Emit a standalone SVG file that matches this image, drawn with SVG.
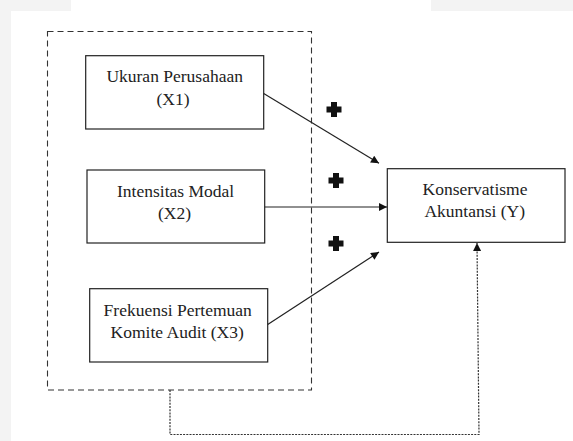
<svg xmlns="http://www.w3.org/2000/svg" width="573" height="441" viewBox="0 0 573 441">
<style>
.bg{fill:#f3f3f3}
.box{fill:#fff;stroke:#222;stroke-width:1.2}
.t{font-family:"Liberation Serif","Times New Roman",serif;font-size:17.5px;fill:#222;text-anchor:middle}
.ln{stroke:#222;stroke-width:1.2;fill:none}
.dash{stroke:#333;stroke-width:1.1;fill:none;stroke-dasharray:6 4}
.dot{stroke:#333;stroke-width:1.2;fill:none;stroke-dasharray:2 1.2}
.plus{fill:#111}
</style>
<defs>
<marker id="ah" viewBox="0 0 10 10" refX="10" refY="5" markerWidth="9" markerHeight="8" markerUnits="userSpaceOnUse" orient="auto">
<path d="M0,0 L10,5 L0,10 z" fill="#111"/>
</marker>
</defs>
<rect x="0" y="0" width="573" height="441" class="bg"/>
<rect x="11" y="11" width="562" height="430" fill="#fff"/>
<rect x="71" y="0" width="360" height="11" fill="#fff"/>
<g id="frame">
<rect x="47.5" y="31.5" width="264" height="358.5" class="dash"/>
</g>
<g id="x1">
<rect x="85.7" y="55.7" width="178" height="73.3" class="box"/>
<text class="t" x="174.7" y="81.7">Ukuran Perusahaan</text>
<text class="t" x="173" y="105">(X1)</text>
</g>
<g id="x2">
<rect x="87" y="170" width="177.7" height="73" class="box"/>
<text class="t" x="175.6" y="196.7">Intensitas Modal</text>
<text class="t" x="174.5" y="219">(X2)</text>
</g>
<g id="x3">
<rect x="89.7" y="288.7" width="178" height="73.3" class="box"/>
<text class="t" x="177.7" y="316">Frekuensi Pertemuan</text>
<text class="t" x="177.2" y="338">Komite Audit (X3)</text>
</g>
<g id="y">
<rect x="387.3" y="168.7" width="177.7" height="73.6" class="box"/>
<text class="t" x="475" y="195">Konservatisme</text>
<text class="t" x="474.7" y="217.3">Akuntansi (Y)</text>
</g>
<g id="connectors">
<line x1="263.7" y1="93.5" x2="379" y2="163.3" class="ln" marker-end="url(#ah)"/>
<line x1="264.7" y1="207" x2="387" y2="207" class="ln" marker-end="url(#ah)"/>
<line x1="267.7" y1="324.5" x2="379" y2="252" class="ln" marker-end="url(#ah)"/>
<polyline points="170,390 170,434.5 479,434.5 477,243" class="dot" marker-end="url(#ah)"/>
</g>
<g id="signs">
<path class="plus" d="M331,102 h6 v4.5 h4.5 v6 h-4.5 v4.5 h-6 v-4.5 h-4.5 v-6 h4.5 z"/>
<path class="plus" d="M333,173 h6 v4.5 h4.5 v6 h-4.5 v4.5 h-6 v-4.5 h-4.5 v-6 h4.5 z"/>
<path class="plus" d="M333,236 h6 v4.5 h4.5 v6 h-4.5 v4.5 h-6 v-4.5 h-4.5 v-6 h4.5 z"/>
</g>
</svg>
